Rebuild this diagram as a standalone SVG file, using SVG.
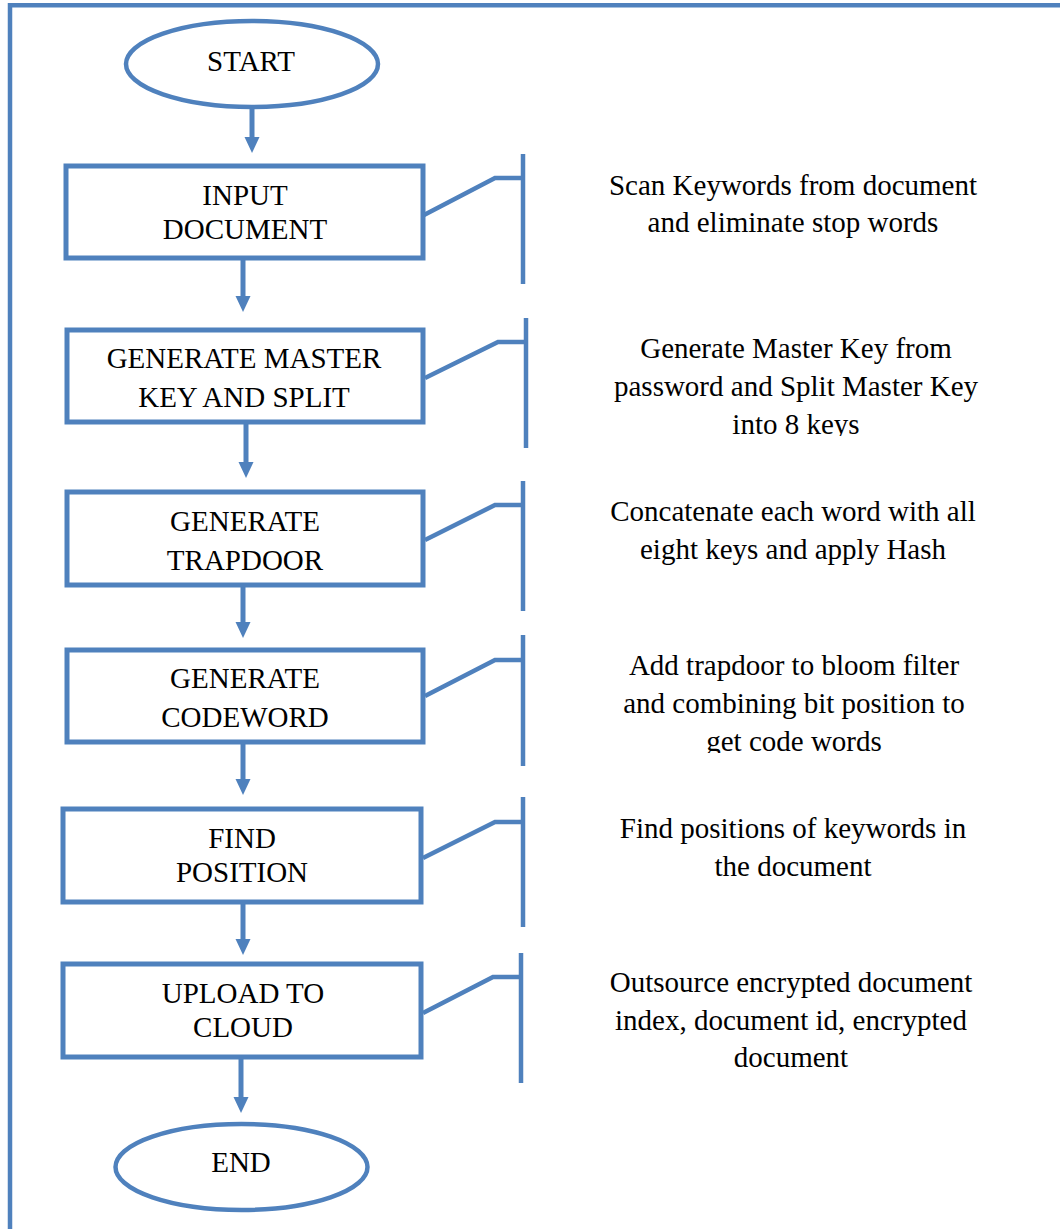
<svg xmlns="http://www.w3.org/2000/svg" width="1060" height="1229" viewBox="0 0 1060 1229">
<style>
.ln{fill:none;stroke:#4F81BD;stroke-width:4.5}
.bx{fill:#fff;stroke:#4F81BD;stroke-width:5}
.el{fill:#fff;stroke:#4F81BD;stroke-width:4.5}
.t{font-family:"Liberation Serif","Times New Roman",serif;font-size:29px;fill:#000;text-anchor:middle}
.ar{fill:none;stroke:#4F81BD;stroke-width:5;marker-end:url(#ah)}
</style>
<defs>
<marker id="ah" markerUnits="userSpaceOnUse" markerWidth="16" markerHeight="16" viewBox="0 0 16 16" refX="4" refY="8" orient="auto">
<path d="M0,0.5 L16,8 L0,15.5 z" fill="#4F81BD"/>
</marker>
<clipPath id="c2"><rect x="560" y="300" width="480" height="136"/></clipPath>
<clipPath id="c4"><rect x="560" y="620" width="480" height="133"/></clipPath>
</defs>
<rect width="1060" height="1229" fill="#fff"/>
<path id="frame" d="M10,1229 V5.3 H1060" fill="none" stroke="#4F81BD" stroke-width="4.5"/>

<g id="connectors">
<line class="ar" x1="252" y1="108" x2="252" y2="141"/>
<line class="ar" x1="243" y1="258" x2="243" y2="300"/>
<line class="ar" x1="246" y1="422" x2="246" y2="466"/>
<line class="ar" x1="243" y1="585" x2="243" y2="626"/>
<line class="ar" x1="243" y1="742" x2="243" y2="783"/>
<line class="ar" x1="243" y1="902" x2="243" y2="943"/>
<line class="ar" x1="241" y1="1057" x2="241" y2="1101"/>
<path class="ln" d="M424,215 L495,178 H523"/><line class="ln" x1="523" y1="154" x2="523" y2="284"/>
<path class="ln" d="M425,378 L498,342 H526"/><line class="ln" x1="526" y1="318" x2="526" y2="448"/>
<path class="ln" d="M425,540 L495,505 H523"/><line class="ln" x1="523" y1="481" x2="523" y2="611"/>
<path class="ln" d="M425,696 L495,660 H523"/><line class="ln" x1="523" y1="635" x2="523" y2="766"/>
<path class="ln" d="M423,858 L495,822 H523"/><line class="ln" x1="523" y1="797" x2="523" y2="927"/>
<path class="ln" d="M423,1013 L493,977 H521"/><line class="ln" x1="521" y1="953" x2="521" y2="1083"/>
</g>

<g id="start">
<ellipse class="el" cx="252" cy="64" rx="126" ry="43"/>
<text class="t" x="251" y="71">START</text>
</g>
<g id="input-document">
<rect class="bx" x="66" y="166" width="357" height="92"/>
<text class="t" x="245" y="205">INPUT</text>
<text class="t" x="245" y="239">DOCUMENT</text>
</g>
<g id="generate-master-key">
<rect class="bx" x="67" y="330" width="356" height="92"/>
<text class="t" x="244" y="368">GENERATE MASTER</text>
<text class="t" x="244" y="407">KEY AND SPLIT</text>
</g>
<g id="generate-trapdoor">
<rect class="bx" x="67" y="492" width="356" height="93"/>
<text class="t" x="245" y="531">GENERATE</text>
<text class="t" x="245" y="570">TRAPDOOR</text>
</g>
<g id="generate-codeword">
<rect class="bx" x="67" y="650" width="356" height="92"/>
<text class="t" x="245" y="688">GENERATE</text>
<text class="t" x="245" y="727">CODEWORD</text>
</g>
<g id="find-position">
<rect class="bx" x="63" y="809" width="358" height="93"/>
<text class="t" x="242" y="848">FIND</text>
<text class="t" x="242" y="882">POSITION</text>
</g>
<g id="upload-to-cloud">
<rect class="bx" x="63" y="964" width="358" height="93"/>
<text class="t" x="243" y="1003">UPLOAD TO</text>
<text class="t" x="243" y="1037">CLOUD</text>
</g>
<g id="end">
<ellipse class="el" cx="241.5" cy="1167" rx="126" ry="43"/>
<text class="t" x="241" y="1172">END</text>
</g>

<g id="note-1">
<text class="t" x="793" y="195">Scan Keywords from document</text>
<text class="t" x="793" y="232">and eliminate stop words</text>
</g>
<g id="note-2" clip-path="url(#c2)">
<text class="t" x="796" y="358">Generate Master Key from</text>
<text class="t" x="796" y="396">password and Split Master Key</text>
<text class="t" x="796" y="434">into 8 keys</text>
</g>
<g id="note-3">
<text class="t" x="793" y="521">Concatenate each word with all</text>
<text class="t" x="793" y="559">eight keys and apply Hash</text>
</g>
<g id="note-4" clip-path="url(#c4)">
<text class="t" x="794" y="675">Add trapdoor to bloom filter</text>
<text class="t" x="794" y="713">and combining bit position to</text>
<text class="t" x="794" y="751">get code words</text>
</g>
<g id="note-5">
<text class="t" x="793" y="838">Find positions of keywords in</text>
<text class="t" x="793" y="876">the document</text>
</g>
<g id="note-6">
<text class="t" x="791" y="992">Outsource encrypted document</text>
<text class="t" x="791" y="1030">index, document id, encrypted</text>
<text class="t" x="791" y="1067">document</text>
</g>
</svg>
